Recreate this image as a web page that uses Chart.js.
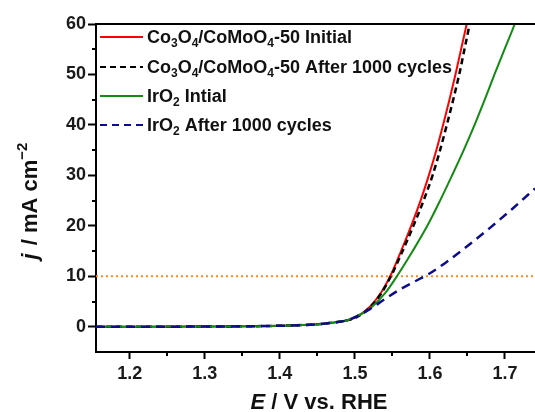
<!DOCTYPE html>
<html>
<head>
<meta charset="utf-8">
<title>LSV stability</title>
<script src="https://cdn.jsdelivr.net/npm/chart.js@4/dist/chart.umd.min.js"></script>
<style>
  html, body { margin: 0; padding: 0; background: #fff; overflow: hidden; }
</style>
</head>
<body>
<canvas id="lsv-chart" width="535" height="412"></canvas>
<script>
// potential E (V vs. RHE) and current density j (mA cm-2)
var coInitialE = [1.155, 1.30, 1.40, 1.45, 1.47, 1.49, 1.50, 1.52, 1.535, 1.547, 1.5615, 1.575, 1.5875, 1.5985, 1.6085, 1.6175, 1.626, 1.634, 1.6415, 1.649, 1.655];
var coInitialJ = [0, 0.05, 0.2, 0.5, 0.8, 1.3, 1.8, 4.0, 6.8, 10, 15, 20, 25, 30, 35, 40, 45, 50, 55, 60, 64];

var coAfterE = [1.155, 1.30, 1.40, 1.45, 1.47, 1.49, 1.50, 1.52, 1.535, 1.548, 1.5635, 1.578, 1.5915, 1.6035, 1.6135, 1.6225, 1.631, 1.639, 1.646, 1.653, 1.66];
var coAfterJ = [0, 0.05, 0.2, 0.5, 0.8, 1.3, 1.7, 3.8, 6.6, 10, 15, 20, 25, 30, 35, 40, 45, 50, 55, 60, 65];

var irInitialE = [1.155, 1.30, 1.40, 1.45, 1.47, 1.49, 1.50, 1.52, 1.54, 1.556, 1.577, 1.5965, 1.6135, 1.6295, 1.645, 1.6595, 1.673, 1.686, 1.6995, 1.713, 1.72];
var irInitialJ = [0, 0.05, 0.2, 0.5, 0.8, 1.3, 1.9, 3.6, 6.6, 10, 15, 20, 25, 30, 35, 40, 45, 50, 55, 60, 63];

var irAfterE = [1.155, 1.30, 1.40, 1.45, 1.47, 1.49, 1.50, 1.52, 1.54, 1.56, 1.58, 1.60, 1.62, 1.65, 1.68, 1.71, 1.74];
var irAfterJ = [0, 0.05, 0.2, 0.5, 0.8, 1.3, 1.9, 3.5, 5.5, 7.4, 9.0, 10.6, 12.6, 16.0, 19.6, 23.4, 27.4];

var refLineJ = 10;   // 10 mA cm-2 benchmark
var seriesNames = ['Co_3O_4/CoMoO_4-50 Initial', 'Co_3O_4/CoMoO_4-50 After 1000 cycles', 'IrO_2 Intial', 'IrO_2 After 1000 cycles'];
var xMin = 1.155, xMax = 1.74, yMin = -5, yMax = 60;
var xMinorTicks = [1.25, 1.35, 1.45, 1.55, 1.65];
var yMinorTicks = [5, 15, 25, 35, 45, 55];

var FONT = '"Liberation Sans", Arial, Helvetica, sans-serif';

function toPoints(xs, ys) {
  return xs.map(function(x, i) { return { x: x, y: ys[i] }; });
}

// draws a string where "_c" means c is a subscript
function drawRich(ctx, str, x, y, size) {
  var i = 0;
  while (i < str.length) {
    if (str[i] === '_') {
      ctx.font = 'bold ' + Math.round(size * 0.65) + 'px ' + FONT;
      ctx.fillText(str[i + 1], x, y + size * 0.32);
      x += ctx.measureText(str[i + 1]).width;
      i += 2;
    } else {
      var j = i;
      while (j < str.length && str[j] !== '_') j++;
      var part = str.slice(i, j);
      ctx.font = 'bold ' + size + 'px ' + FONT;
      ctx.fillText(part, x, y);
      x += ctx.measureText(part).width;
      i = j;
    }
  }
  return x;
}

var legendStyles = [
  { color: '#ff0000', dash: [] },
  { color: '#000000', dash: [6, 4] },
  { color: '#138a13', dash: [] },
  { color: '#0c0c8c', dash: [7, 5] }
];

var decorations = {
  id: 'decorations',
  afterDraw: function(chart) {
    var ctx = chart.ctx;
    var area = chart.chartArea;
    var xs = chart.scales.x, ys = chart.scales.y;
    ctx.save();
    ctx.strokeStyle = '#000';
    ctx.lineWidth = 2;

    // top frame line
    ctx.beginPath();
    ctx.moveTo(area.left - 1, area.top);
    ctx.lineTo(area.right, area.top);
    ctx.stroke();

    // minor ticks
    ctx.beginPath();
    xMinorTicks.forEach(function(v) {
      var px = Math.round(xs.getPixelForValue(v));
      ctx.moveTo(px, area.bottom);
      ctx.lineTo(px, area.bottom + 4);
    });
    yMinorTicks.forEach(function(v) {
      var py = Math.round(ys.getPixelForValue(v));
      ctx.moveTo(area.left, py);
      ctx.lineTo(area.left - 4, py);
    });
    ctx.stroke();

    // legend
    ctx.fillStyle = '#111';
    ctx.textBaseline = 'middle';
    ctx.textAlign = 'left';
    var rowY = [37, 67, 96, 125];
    seriesNames.forEach(function(name, i) {
      ctx.beginPath();
      ctx.strokeStyle = legendStyles[i].color;
      ctx.setLineDash(legendStyles[i].dash);
      ctx.moveTo(100, rowY[i]);
      ctx.lineTo(143, rowY[i]);
      ctx.stroke();
      ctx.setLineDash([]);
      drawRich(ctx, name, 147, rowY[i] + 1, 18);
    });

    // x axis title
    ctx.textBaseline = 'alphabetic';
    ctx.font = 'italic bold 22px ' + FONT;
    var ePart = 'E';
    var rest = ' / V vs. RHE';
    var w1 = ctx.measureText(ePart).width;
    ctx.font = 'bold 22px ' + FONT;
    var w2 = ctx.measureText(rest).width;
    var sx = 319 - (w1 + w2) / 2;
    ctx.font = 'italic bold 22px ' + FONT;
    ctx.fillText(ePart, sx, 409);
    ctx.font = 'bold 22px ' + FONT;
    ctx.fillText(rest, sx + w1, 409);

    // y axis title
    ctx.save();
    ctx.translate(37, 202);
    ctx.rotate(-Math.PI / 2);
    ctx.font = 'italic bold 22px ' + FONT;
    var a = 'j';
    var wa = ctx.measureText(a).width;
    ctx.font = 'bold 22px ' + FONT;
    var b = ' / mA cm';
    var wb = ctx.measureText(b).width;
    ctx.font = 'bold 15px ' + FONT;
    var c = '\u22122';
    var wc = ctx.measureText(c).width;
    var tx = -(wa + wb + wc) / 2;
    ctx.font = 'italic bold 22px ' + FONT;
    ctx.fillText(a, tx, 0);
    ctx.font = 'bold 22px ' + FONT;
    ctx.fillText(b, tx + wa + 2, 0);
    ctx.font = 'bold 15px ' + FONT;
    ctx.fillText(c, tx + wa + 2 + wb, -10);
    ctx.restore();

    ctx.restore();
  }
};

var ctx = document.getElementById('lsv-chart');
var lsvChart = new Chart(ctx, {
  type: 'line',
  data: {
    datasets: [
      {
        label: 'IrO2 After 1000 cycles',
        data: toPoints(irAfterE, irAfterJ),
        borderColor: '#0c0c8c',
        borderDash: [9, 6],
        borderWidth: 2.5
      },
      {
        label: 'IrO2 Intial',
        data: toPoints(irInitialE, irInitialJ),
        borderColor: '#138a13',
        borderWidth: 2
      },
      {
        label: 'Co3O4/CoMoO4-50 After 1000 cycles',
        data: toPoints(coAfterE, coAfterJ),
        borderColor: '#000000',
        borderDash: [6, 4],
        borderWidth: 2.5
      },
      {
        label: 'Co3O4/CoMoO4-50 Initial',
        data: toPoints(coInitialE, coInitialJ),
        borderColor: '#ff0000',
        borderWidth: 2
      },
      {
        label: '10 mA cm-2',
        data: [{ x: xMin, y: refLineJ }, { x: xMax, y: refLineJ }],
        borderColor: '#ff8c1a',
        borderDash: [2, 3],
        borderWidth: 2
      }
    ]
  },
  options: {
    responsive: false,
    animation: false,
    layout: { padding: { top: 24, right: 0, left: 0, bottom: 0 } },
    elements: {
      point: { radius: 0 },
      line: { cubicInterpolationMode: 'monotone', fill: false }
    },
    plugins: {
      legend: { display: false },
      tooltip: { enabled: false }
    },
    scales: {
      x: {
        type: 'linear',
        min: xMin,
        max: xMax,
        afterFit: function(scale) { scale.height = 60; },
        border: { display: true, color: '#000', width: 2 },
        grid: { drawOnChartArea: false, drawTicks: true, tickLength: 7, tickColor: '#000', tickWidth: 2 },
        ticks: {
          stepSize: 0.1,
          includeBounds: false,
          maxRotation: 0,
          padding: 4,
          color: '#1a1a1a',
          font: { family: FONT, size: 18, weight: 'bold' },
          callback: function(v) { return v.toFixed(1); }
        }
      },
      y: {
        type: 'linear',
        min: yMin,
        max: yMax,
        afterFit: function(scale) { scale.width = 96; },
        border: { display: true, color: '#000', width: 2 },
        grid: { drawOnChartArea: false, drawTicks: true, tickLength: 8, tickColor: '#000', tickWidth: 2 },
        ticks: {
          stepSize: 10,
          includeBounds: false,
          padding: 2,
          color: '#1a1a1a',
          font: { family: FONT, size: 18, weight: 'bold' }
        }
      }
    }
  },
  plugins: [decorations]
});
</script>
</body>
</html>
